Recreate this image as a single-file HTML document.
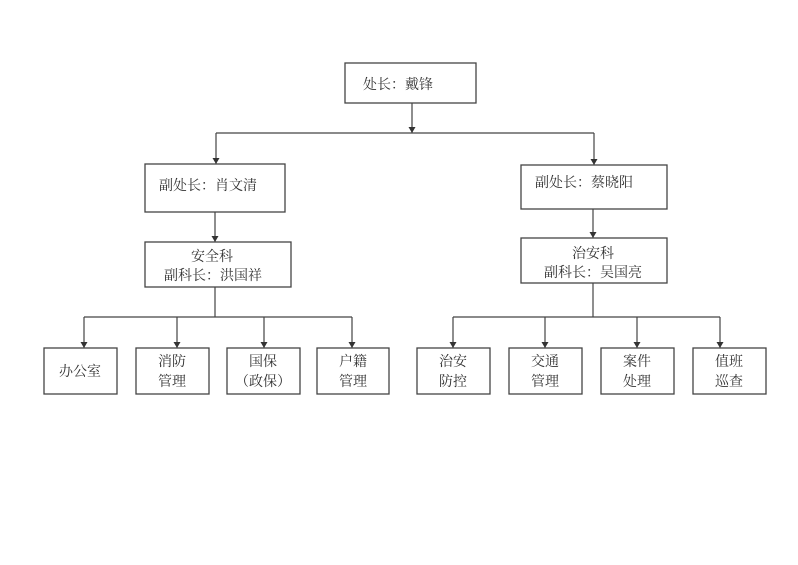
<!DOCTYPE html>
<html><head><meta charset="utf-8"><style>
html,body{margin:0;padding:0;background:#fff;}
body{width:798px;height:565px;overflow:hidden;position:relative;}
svg{position:absolute;left:0;top:0;}
text{font-family:"Liberation Serif","Noto Serif CJK SC",serif;font-size:14px;fill:#333;text-anchor:middle;}
rect{fill:#fff;stroke:#444;stroke-width:1.3;}
line{stroke:#444;stroke-width:1.2;}
</style></head><body>
<svg width="798" height="565" viewBox="0 0 798 565">
<defs><marker id="a" markerWidth="8" markerHeight="8" refX="4" refY="6" orient="auto" markerUnits="userSpaceOnUse"><path d="M0.5,1 L7.5,1 L4,7 Z" fill="#333" transform="rotate(-90 4 4)"/></marker></defs>
<g id="lines">
<line x1="412" y1="103" x2="412" y2="133"/>
<line x1="216" y1="133" x2="594" y2="133"/>
<line x1="216" y1="133" x2="216" y2="164"/>
<line x1="594" y1="133" x2="594" y2="165"/>
<line x1="215" y1="212" x2="215" y2="242"/>
<line x1="593" y1="209" x2="593" y2="238"/>
<line x1="215" y1="287" x2="215" y2="317"/>
<line x1="593" y1="283" x2="593" y2="317"/>
<line x1="84" y1="317" x2="352" y2="317"/>
<line x1="453" y1="317" x2="720" y2="317"/>
<line x1="84" y1="317" x2="84" y2="348"/>
<line x1="177" y1="317" x2="177" y2="348"/>
<line x1="264" y1="317" x2="264" y2="348"/>
<line x1="352" y1="317" x2="352" y2="348"/>
<line x1="453" y1="317" x2="453" y2="348"/>
<line x1="545" y1="317" x2="545" y2="348"/>
<line x1="637" y1="317" x2="637" y2="348"/>
<line x1="720" y1="317" x2="720" y2="348"/>
</g>
<g fill="#333">
<path d="M408.5,127 L415.5,127 L412,133Z"/>
<path d="M212.5,158 L219.5,158 L216,164Z"/>
<path d="M590.5,159 L597.5,159 L594,165Z"/>
<path d="M211.5,236 L218.5,236 L215,242Z"/>
<path d="M589.5,232 L596.5,232 L593,238Z"/>
<path d="M80.5,342 L87.5,342 L84,348Z"/>
<path d="M173.5,342 L180.5,342 L177,348Z"/>
<path d="M260.5,342 L267.5,342 L264,348Z"/>
<path d="M348.5,342 L355.5,342 L352,348Z"/>
<path d="M449.5,342 L456.5,342 L453,348Z"/>
<path d="M541.5,342 L548.5,342 L545,348Z"/>
<path d="M633.5,342 L640.5,342 L637,348Z"/>
<path d="M716.5,342 L723.5,342 L720,348Z"/>
</g>
<rect x="345" y="63" width="131" height="40"/>
<text x="398" y="89">处长：戴锋</text>
<rect x="145" y="164" width="140" height="48"/>
<text x="208" y="190">副处长：肖文清</text>
<rect x="521" y="165" width="146" height="44"/>
<text x="584" y="187">副处长：蔡晓阳</text>
<rect x="145" y="242" width="146" height="45"/>
<text x="212" y="261">安全科</text>
<text x="213" y="280">副科长：洪国祥</text>
<rect x="521" y="238" width="146" height="45"/>
<text x="593" y="258">治安科</text>
<text x="593" y="277">副科长：吴国亮</text>
<rect x="44" y="348" width="73" height="46"/>
<text x="80" y="376">办公室</text>
<rect x="136" y="348" width="73" height="46"/>
<text x="172" y="366">消防</text><text x="172" y="386">管理</text>
<rect x="227" y="348" width="73" height="46"/>
<text x="263" y="366">国保</text><text x="263" y="386">（政保）</text>
<rect x="317" y="348" width="72" height="46"/>
<text x="353" y="366">户籍</text><text x="353" y="386">管理</text>
<rect x="417" y="348" width="73" height="46"/>
<text x="453" y="366">治安</text><text x="453" y="386">防控</text>
<rect x="509" y="348" width="73" height="46"/>
<text x="545" y="366">交通</text><text x="545" y="386">管理</text>
<rect x="601" y="348" width="73" height="46"/>
<text x="637" y="366">案件</text><text x="637" y="386">处理</text>
<rect x="693" y="348" width="73" height="46"/>
<text x="729" y="366">值班</text><text x="729" y="386">巡查</text>
</svg>
</body></html>
